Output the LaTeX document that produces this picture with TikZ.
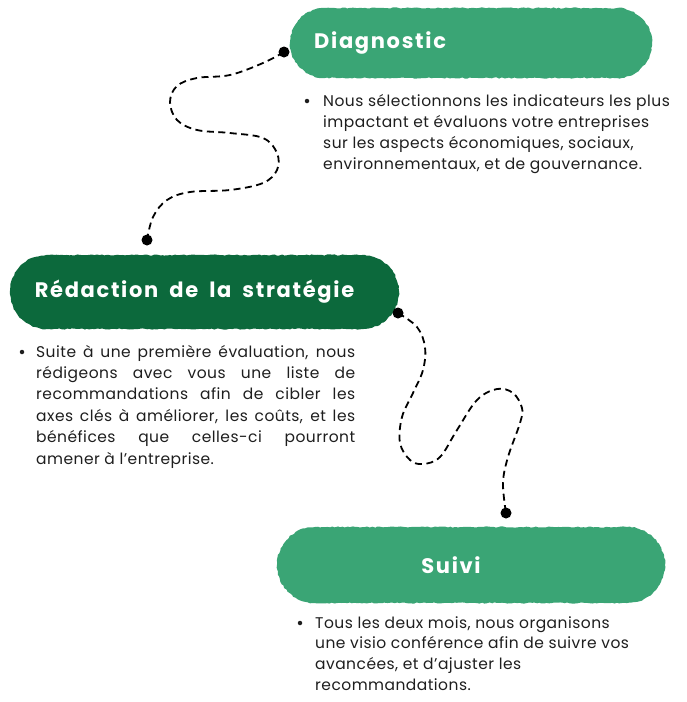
\documentclass[tikz,border=0pt]{standalone}
\usepackage{fontspec}
\setmainfont[LetterSpace=3]{Poppins}
\newfontfamily\headfont[LetterSpace=8,WordSpace=1.8]{Poppins}
\usetikzlibrary{shapes.misc,decorations.pathmorphing}
\definecolor{lightgreen}{RGB}{58,165,117}
\definecolor{darkgreen}{RGB}{12,105,60}
\definecolor{bodytext}{RGB}{30,30,30}
\newcommand\justline[1]{\makebox[319pt][s]{#1}}
\begin{document}
\begin{tikzpicture}[x=1pt,y=-1pt,
  brushbox/.style={rounded rectangle, inner sep=0pt, decorate,
    decoration={random steps, segment length=2.5pt, amplitude=0.6pt}},
  headtxt/.style={text=white, inner sep=0pt, font=\headfont\bfseries\fontsize{21}{24}\selectfont},
  bodytxt/.style={text=bodytext, inner sep=0pt, anchor=base west, font=\fontsize{15.5}{21}\selectfont},
  bulletdot/.style={circle, fill=bodytext, inner sep=0pt, minimum size=4.5pt},
  dotnode/.style={circle, fill=black, inner sep=0pt, minimum size=11pt},
  conn/.style={draw=black, line width=1.8pt, dash pattern=on 7pt off 4.5pt}]
\pgfmathsetseed{7}
\useasboundingbox (0,0) rectangle (687,702);
% boxes
\node[brushbox, fill=lightgreen, minimum width=362pt, minimum height=70pt] (diag) at (471,43) {};
\node[brushbox, fill=darkgreen, minimum width=389pt, minimum height=74pt] (redac) at (204.5,292) {};
\node[brushbox, fill=lightgreen, minimum width=388pt, minimum height=76pt] (suivi) at (471,565) {};
% headings
\node[headtxt, anchor=west] (diagt) at (314,43) {Diagnostic};
\node[headtxt] (redact) at (194.5,292) {Rédaction de la stratégie};
\node[headtxt] (suivit) at (451,565) {Suivi};
% dots
\node[dotnode] (d1) at (284,52) {};
\node[dotnode] (d2) at (147,240) {};
\node[dotnode] (d3) at (398,313) {};
\node[dotnode] (d4) at (506,513) {};
% connectors
\draw[conn] plot[smooth, tension=0.6] coordinates {(d1.center) (263,63) (230,75) (197,78) (177,86) (170,102) (177,120) (197,130) (230,133) (263,138) (277,153) (277,170) (263,183) (230,190) (190,192) (167,200) (153,217) (d2.center)};
\draw[conn] plot[smooth, tension=0.6] coordinates {(d3.center) (417,327) (425,347) (423,370) (413,393) (402,417) (400,443) (410,460) (423,464) (440,457) (457,430) (477,400) (497,389) (513,393) (522,408) (520,423) (508,457) (503,483) (d4.center)};
% bullets and body text
\node[bulletdot] (b1) at (307,101) {};
\node[bodytxt] (t1) at (323,106) {\parbox[t]{380pt}{Nous sélectionnons les indicateurs les plus\\impactant et évaluons votre entreprises\\sur les aspects économiques, sociaux,\\environnementaux, et de gouvernance.}};
\node[bulletdot] (b2) at (22,352) {};
\node[bodytxt, font=\fontsize{15.5}{21.4}\selectfont] (t2) at (36,357) {\parbox[t]{330pt}{\justline{Suite à une première évaluation, nous}\\\justline{rédigeons avec vous une liste de}\\\justline{recommandations afin de cibler les}\\\justline{axes clés à améliorer, les coûts, et les}\\\justline{bénéfices que celles-ci pourront}\\amener à l’entreprise.}};
\node[bulletdot] (b3) at (300,623) {};
\node[bodytxt, font=\fontsize{15.5}{20.8}\selectfont] (t3) at (315,628) {\parbox[t]{380pt}{Tous les deux mois, nous organisons\\une visio conférence afin de suivre vos\\avancées, et d’ajuster les\\recommandations.}};
\end{tikzpicture}
\end{document}
